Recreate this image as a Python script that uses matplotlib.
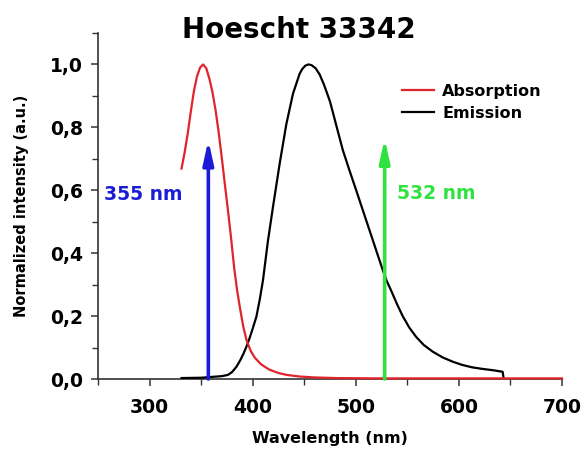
import matplotlib
matplotlib.use('Agg')
import matplotlib.pyplot as plt
from matplotlib.ticker import MultipleLocator, FuncFormatter

# Absorption spectrum
abs_nm = [331, 334, 337, 340, 343, 346, 349, 352, 355, 358, 361, 364, 367, 370, 373, 376,
          379, 382, 385, 388, 391, 394, 398, 402, 408, 416, 425, 433, 445, 460, 480, 520,
          600, 700]
abs_val = [0.669, 0.72, 0.78, 0.85, 0.915, 0.962, 0.99, 1.0, 0.988, 0.955, 0.912, 0.855,
           0.785, 0.705, 0.62, 0.537, 0.45, 0.355, 0.28, 0.22, 0.165, 0.124, 0.09, 0.068,
           0.047, 0.03, 0.019, 0.013, 0.008, 0.005, 0.003, 0.002, 0.002, 0.002]

# Emission spectrum
em_nm = [331, 350, 361.6, 370, 376, 380, 384.3, 388, 391, 394, 397, 400, 403.6, 407, 410,
         414.9, 419.7, 426.2, 432.7, 439.1, 445.5, 448, 451, 454, 457, 461, 465, 469, 472,
         475, 478, 482, 487.5, 494, 500.4, 507, 513.3, 520, 526.2, 530, 535, 540, 545.5,
         552, 558.5, 566, 574.6, 584, 594, 603, 613, 623, 633, 642.4, 643.5]
em_val = [0.003, 0.004, 0.007, 0.009, 0.013, 0.022, 0.039, 0.06, 0.08, 0.103, 0.13, 0.16,
          0.198, 0.255, 0.314, 0.441, 0.547, 0.685, 0.811, 0.907, 0.970, 0.985, 0.996, 1.0,
          0.998, 0.988, 0.968, 0.937, 0.91, 0.882, 0.845, 0.795, 0.727, 0.662, 0.60, 0.535,
          0.473, 0.407, 0.346, 0.312, 0.276, 0.238, 0.2, 0.163, 0.134, 0.108, 0.087, 0.069,
          0.055, 0.045, 0.037, 0.032, 0.028, 0.023, 0.0]

# Excitation lasers
laser_nm = [357, 528]
laser_top = [0.76, 0.765]
laser_labels = ['355 nm', '532 nm']
laser_colors = ['#1c1cd6', '#2ee23f']
label_x = [256, 540]
label_y = [0.585, 0.59]

plt.rcParams['font.family'] = ['DejaVu Sans']
plt.rcParams['font.weight'] = 'bold'

fig = plt.figure(figsize=(5.85, 4.57), dpi=100)
ax = fig.add_axes([98 / 585, 1 - 379 / 457, (562 - 98) / 585, (379 - 33) / 457])

ax.plot(em_nm, em_val, color='black', lw=1.6, label='Emission', zorder=3)
ax.plot(abs_nm, abs_val, color='#e0242c', lw=1.6, label='Absorption', zorder=4, clip_on=False)

for x, top, lab, col, tx, ty in zip(laser_nm, laser_top, laser_labels, laser_colors, label_x, label_y):
    ax.annotate('', xy=(x, top), xytext=(x, 0.0),
                arrowprops=dict(arrowstyle='-|>,head_length=1.0,head_width=0.22',
                                color=col, lw=2.6, shrinkA=0, shrinkB=0, mutation_scale=14),
                zorder=5)
    ax.text(tx, ty, lab, color=col, fontsize=13.5, fontweight='bold', va='center', ha='left')

ax.set_xlim(250, 700)
ax.set_ylim(0, 1.1)
ax.set_xticks([300, 400, 500, 600, 700])
ax.xaxis.set_minor_locator(MultipleLocator(50))
ax.yaxis.set_major_locator(MultipleLocator(0.2))
ax.yaxis.set_minor_locator(MultipleLocator(0.1))
ax.yaxis.set_major_formatter(FuncFormatter(lambda v, p: f'{v:.1f}'.replace('.', ',')))

for s in ['top', 'right']:
    ax.spines[s].set_visible(False)
for s in ['left', 'bottom']:
    ax.spines[s].set_color('#333333')
    ax.spines[s].set_linewidth(1.2)

ax.tick_params(axis='both', which='major', direction='out', length=5, width=1.1,
               labelsize=13.5, color='#333333')
ax.tick_params(axis='both', which='minor', direction='out', length=4, width=1.0, color='#333333')
for lab in ax.get_xticklabels() + ax.get_yticklabels():
    lab.set_fontweight('bold')
ax.tick_params(axis='x', pad=9)
ax.tick_params(axis='y', pad=6)

ax.set_xlabel('Wavelength (nm)', fontsize=11.5, fontweight='bold', labelpad=10)
ax.set_ylabel('Normalized intensity (a.u.)', fontsize=10.5, fontweight='bold', labelpad=15)

fig.text(299 / 585, 1 - 30 / 457, 'Hoescht 33342', fontsize=20, fontweight='bold',
         ha='center', va='center')

handles, labels = ax.get_legend_handles_labels()
ax.legend(handles[::-1], labels[::-1], loc='upper left', bbox_to_anchor=(0.625, 0.895),
          frameon=False, handlelength=2.0, handletextpad=0.5,
          labelspacing=0.45, prop={'weight': 'bold', 'size': 11.5})

fig.savefig('out.png', dpi=100)
